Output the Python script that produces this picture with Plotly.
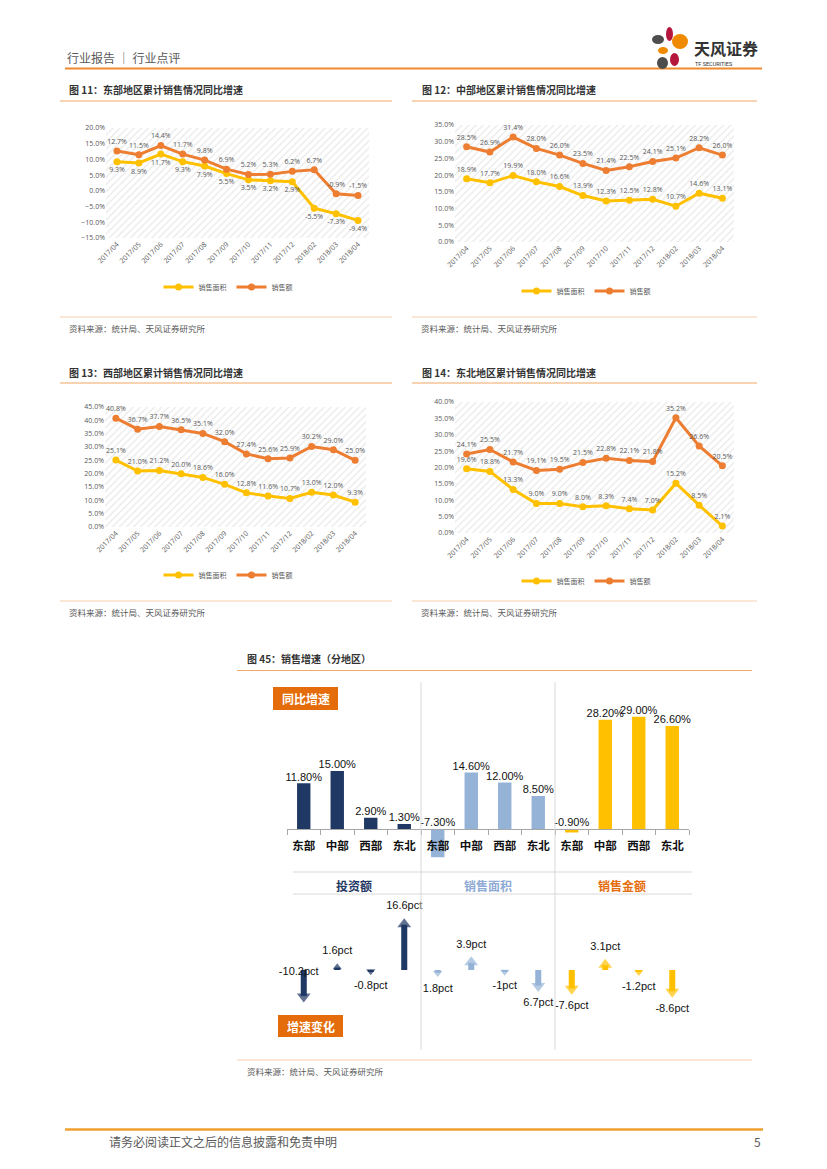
import plotly.graph_objects as go

W, H = 827, 1169
def px(x): return x / W
def py(y): return 1 - y / H

FONT = "Noto Sans CJK SC"
GRAY = "#595959"
C_AREA = "#ffc000"
C_AMT = "#ed7d31"

# ---------------- data ----------------
months = ['2017/04', '2017/05', '2017/06', '2017/07', '2017/08', '2017/09',
          '2017/10', '2017/11', '2017/12', '2018/02', '2018/03', '2018/04']

east_area = [9.3, 8.9, 11.7, 9.3, 7.9, 5.5, 3.5, 3.2, 2.9, -5.5, -7.3, -9.4]
east_amount = [12.7, 11.5, 14.4, 11.7, 9.8, 6.9, 5.2, 5.3, 6.2, 6.7, -0.9, -1.5]

central_area = [18.9, 17.7, 19.9, 18.0, 16.6, 13.9, 12.3, 12.5, 12.8, 10.7, 14.6, 13.1]
central_amount = [28.5, 26.9, 31.4, 28.0, 26.0, 23.5, 21.4, 22.5, 24.1, 25.1, 28.2, 26.0]

west_area = [25.1, 21.0, 21.2, 20.0, 18.6, 16.0, 12.8, 11.6, 10.7, 13.0, 12.0, 9.3]
west_amount = [40.8, 36.7, 37.7, 36.5, 35.1, 32.0, 27.4, 25.6, 25.9, 30.2, 29.0, 25.0]

ne_area = [19.6, 18.8, 13.3, 9.0, 9.0, 8.0, 8.3, 7.4, 7.0, 15.2, 8.5, 2.1]
ne_amount = [24.1, 25.5, 21.7, 19.1, 19.5, 21.5, 22.8, 22.1, 21.8, 35.2, 26.6, 20.5]

series_names = ['销售面积', '销售额']

regions = ['东部', '中部', '西部', '东北']
groups = ['投资额', '销售面积', '销售金额']
invest_yoy = [11.8, 15.0, 2.9, 1.3]
area_yoy = [-7.3, 14.6, 12.0, 8.5]
amount_yoy = [-0.9, 28.2, 29.0, 26.6]

invest_chg = [-10.2, 1.6, -0.8, 16.6]
area_chg = [-1.8, 3.9, -1.0, -6.7]
amount_chg = [-7.6, 3.1, -1.2, -8.6]
invest_chg_text = ['-10.2pct', '1.6pct', '-0.8pct', '16.6pct']
area_chg_text = ['1.8pct', '3.9pct', '-1pct', '6.7pct']
amount_chg_text = ['-7.6pct', '3.1pct', '-1.2pct', '-8.6pct']

# ---------------- figure ----------------
fig = go.Figure()
annotations = []
shapes = []

def text(x, y, s, size=9, color=GRAY, bold=False, xanchor='left', family=FONT):
    if bold:
        s = '<b>' + s + '</b>'
    annotations.append(dict(x=px(x), y=py(y), xref='paper', yref='paper', text=s,
                            showarrow=False, xanchor=xanchor, yanchor='middle',
                            font=dict(family=family, size=size, color=color)))

def hline(x0, x1, y, color, width=1):
    shapes.append(dict(type='line', xref='paper', yref='paper', x0=px(x0), x1=px(x1),
                       y0=py(y), y1=py(y), line=dict(color=color, width=width)))

# header
text(65, 57, '行业报告 ｜ 行业点评', size=12, color=GRAY)
hline(65, 762, 68.5, '#ef8a2c', 2)
# logo petals
petals = [(666, 673, 27, 41, '#b5173c'), (672, 688, 34, 49, '#f08a00'),
          (652, 664, 35, 44, '#4d4d4d'), (658, 668, 47, 54, '#f08a00'),
          (670, 679, 53, 66, '#b5173c'), (657, 668, 57, 69, '#4d4d4d')]
for x0, x1, y0, y1, c in petals:
    shapes.append(dict(type='circle', xref='paper', yref='paper', x0=px(x0), x1=px(x1),
                       y0=py(y1), y1=py(y0), fillcolor=c, line=dict(width=0)))
text(692, 48, '天风证券', size=16, color='#333333', bold=True)
text(693, 63.5, 'TF SECURITIES', size=5.5, color='#333333', family='Roboto')

# footer
hline(65, 763, 1129.5, '#f0a030', 2.5)
text(107, 1141, '请务必阅读正文之后的信息披露和免责申明', size=12, color=GRAY)
text(752, 1141, '5', size=12, color=GRAY)

charts = [
    dict(title='图 11：东部地区累计销售情况同比增速', area=east_area, amount=east_amount,
         xd=(106, 369), yd=(238, 128), yr=(-15, 20), area_pos='bottom center',
         leg=(228, 287), tx=67, ty=89, box=(60, 392), tl=101, src=317),
    dict(title='图 12：中部地区累计销售情况同比增速', area=central_area, amount=central_amount,
         xd=(455, 734), yd=(242, 125), yr=(0, 35), area_pos='top center',
         leg=(586, 291), tx=420, ty=89, box=(412, 757), tl=101, src=317),
    dict(title='图 13：西部地区累计销售情况同比增速', area=west_area, amount=west_amount,
         xd=(105, 366), yd=(527, 407), yr=(0, 45), area_pos='top center',
         leg=(228, 575), tx=67, ty=372, box=(60, 392), tl=383, src=601),
    dict(title='图 14：东北地区累计销售情况同比增速', area=ne_area, amount=ne_amount,
         xd=(455, 734), yd=(533, 402), yr=(0, 40), area_pos='top center',
         leg=(586, 581), tx=420, ty=372, box=(412, 757), tl=383, src=601),
]

xs = list(range(len(months)))
for k, c in enumerate(charts, start=1):
    xa = 'x' if k == 1 else f'x{k}'
    ya = 'y' if k == 1 else f'y{k}'
    lg = 'legend' if k == 1 else f'legend{k}'
    lo, hi = c['yr']
    # hatched plot background
    fig.add_trace(go.Scatter(x=[-0.5, 11.5, 11.5, -0.5, -0.5], y=[lo, lo, hi, hi, lo],
                             xaxis=xa, yaxis=ya, mode='lines', line=dict(width=0),
                             fill='toself', fillcolor='rgba(0,0,0,0)',
                             fillpattern=dict(shape='/', fgcolor='#cfcfcf', bgcolor='white',
                                              size=5, solidity=0.22),
                             hoverinfo='skip', showlegend=False))
    fig.add_trace(go.Scatter(x=xs, y=c['area'], xaxis=xa, yaxis=ya, name=series_names[0],
                             mode='lines+markers+text', legend=lg,
                             line=dict(color=C_AREA, width=3),
                             marker=dict(color=C_AREA, size=7),
                             text=[f'{v:.1f}%' for v in c['area']], textposition=c['area_pos'],
                             textfont=dict(family='Open Sans', size=7, color=GRAY),
                             cliponaxis=False))
    fig.add_trace(go.Scatter(x=xs, y=c['amount'], xaxis=xa, yaxis=ya, name=series_names[1],
                             mode='lines+markers+text', legend=lg,
                             line=dict(color=C_AMT, width=3),
                             marker=dict(color=C_AMT, size=7),
                             text=[f'{v:.1f}%' for v in c['amount']], textposition='top center',
                             textfont=dict(family='Open Sans', size=7, color=GRAY),
                             cliponaxis=False))
    xkey = 'xaxis' if k == 1 else f'xaxis{k}'
    ykey = 'yaxis' if k == 1 else f'yaxis{k}'
    fig.update_layout({
        xkey: dict(domain=[px(c['xd'][0]), px(c['xd'][1])], anchor=ya, range=[-0.5, 11.5],
                   tickmode='array', tickvals=xs, ticktext=months, tickangle=-45,
                   showgrid=False, zeroline=False, showline=False, ticks='',
                   tickfont=dict(family='Open Sans', size=7, color=GRAY)),
        ykey: dict(domain=[py(c['yd'][0]), py(c['yd'][1])], anchor=xa, range=[lo, hi],
                   dtick=5, tickformat='.1f', ticksuffix='%', showgrid=True,
                   gridcolor='#d9d9d9', zeroline=False, showline=False, ticks='',
                   tickfont=dict(family='Open Sans', size=7, color=GRAY)),
        lg: dict(orientation='h', x=px(c['leg'][0]), y=py(c['leg'][1]), xanchor='center',
                 yanchor='middle', font=dict(family=FONT, size=7, color=GRAY),
                 itemwidth=30, bgcolor='rgba(0,0,0,0)'),
    })
    text(c['tx'], c['ty'], c['title'], size=10, color='#333333', bold=True)
    hline(c['box'][0], c['box'][1], c['tl'], '#f2a766', 1.2)
    hline(c['box'][0], c['box'][1], c['src'], '#f7cfae', 1.2)
    text(c['box'][0] + 7, c['src'] + 10.5, '资料来源：统计局、天风证券研究所', size=8.5, color=GRAY)

# ---------------- figure 45 ----------------
text(245, 658, '图 45：销售增速（分地区）', size=10, color='#333333', bold=True)
hline(237, 752, 670.5, '#f2a766', 1.2)
hline(237, 752, 1060, '#f7cfae', 1.2)
text(245, 1071, '资料来源：统计局、天风证券研究所', size=8.5, color=GRAY)

group_colors = ['#1f3864', '#95b3d7', '#ffc000']
group_text_colors = ['#1f3864', '#8eaad4', '#e46c0a']
bar_vals = invest_yoy + area_yoy + amount_yoy
bar_x = list(range(len(bar_vals)))
bar_colors = [group_colors[i // 4] for i in bar_x]
bar_ticks = regions * 3

fig.add_trace(go.Bar(x=bar_x, y=bar_vals, xaxis='x5', yaxis='y5', width=0.4,
                     marker=dict(color=bar_colors, line=dict(width=0)), showlegend=False))
fig.add_trace(go.Scatter(x=bar_x, y=[max(v, 0) for v in bar_vals], xaxis='x5', yaxis='y5',
                         mode='text', text=[f'{v:.2f}%' for v in bar_vals],
                         textposition='top center', cliponaxis=False,
                         textfont=dict(family='Liberation Sans', size=11, color='#111111'),
                         showlegend=False))

ZERO_PX, PPP = 829.0, 3.87
bar_lo, bar_hi = -10, 32
fig.update_layout(
    xaxis5=dict(domain=[px(287), px(689)], anchor='free', position=py(ZERO_PX),
                range=[-0.5, 11.5], tickmode='array', tickvals=bar_x, ticktext=bar_ticks,
                showgrid=False, zeroline=False, showline=True, linecolor='#a6a6a6',
                linewidth=1, ticks='', ticklabelstandoff=6,
                tickfont=dict(family=FONT, size=11.5, color='#111111', weight='bold'),
                minor=dict(tick0=0.5, dtick=1, ticks='outside', ticklen=5,
                           tickcolor='#a6a6a6', showgrid=False)),
    yaxis5=dict(domain=[py(ZERO_PX - bar_lo * PPP), py(ZERO_PX - bar_hi * PPP)],
                anchor='x5', range=[bar_lo, bar_hi], visible=False),
)

# group labels and separators
for gi, g in enumerate(groups):
    cx = 287 + (gi * 4 + 2) * 33.5
    text(cx, 885, g, size=12, color=group_text_colors[gi], bold=True, xanchor='center')
hline(293, 692, 872, '#d9d9d9', 1)
hline(293, 692, 894, '#d9d9d9', 1)
for sx in (3.5, 7.5):
    shapes.append(dict(type='line', xref='x5', yref='paper', x0=sx, x1=sx,
                       y0=py(1050), y1=py(682), line=dict(color='#d9d9d9', width=1)))

# labelled boxes
for (x0, x1, y0, y1, s) in [(273, 338, 687, 710, '同比增速'), (278, 343, 1015, 1037, '增速变化')]:
    shapes.append(dict(type='rect', xref='paper', yref='paper', x0=px(x0), x1=px(x1),
                       y0=py(y1), y1=py(y0), fillcolor='#e46c0a', line=dict(width=0)))
    text((x0 + x1) / 2, (y0 + y1) / 2, s, size=12, color='white', bold=True, xanchor='center')

# arrows (change in growth): shaft = thin bar, head = triangle marker
chg_vals = invest_chg + area_chg + amount_chg
chg_text = invest_chg_text + area_chg_text + amount_chg_text
label_mode = ['base'] + ['tip'] * 11
ARROW_PPP = 3.0
ar_half = 70 / ARROW_PPP
HEAD_PX = 9
head_u = HEAD_PX / ARROW_PPP
fig.update_layout(
    xaxis6=dict(domain=[px(287), px(689)], anchor='y6', range=[-0.5, 11.5], visible=False),
    yaxis6=dict(domain=[py(1040), py(900)], anchor='x6', range=[-ar_half, ar_half], visible=False),
)
chg_x = list(range(len(chg_vals)))
chg_colors = [group_colors[i // 4] for i in chg_x]
sgns = [1 if v > 0 else -1 for v in chg_vals]
big = [abs(v) > head_u for v in chg_vals]
shaft_end = [v - s * head_u * 0.5 if b else v * 0.5 for v, s, b in zip(chg_vals, sgns, big)]
head_size = [12 if b else 8 for b in big]
head_y = [v - s * (head_u * 0.45 if b else abs(v) * 0.45) for v, s, b in zip(chg_vals, sgns, big)]
fig.add_trace(go.Bar(x=chg_x, y=shaft_end, xaxis='x6', yaxis='y6', width=0.18,
                     marker=dict(color=chg_colors, line=dict(width=0)), showlegend=False,
                     hoverinfo='skip'))
fig.add_trace(go.Scatter(x=chg_x, y=head_y, xaxis='x6', yaxis='y6', mode='markers',
                         marker=dict(symbol=['triangle-up' if s > 0 else 'triangle-down' for s in sgns],
                                     size=head_size, color=chg_colors, line=dict(width=0)),
                         showlegend=False, hoverinfo='skip', cliponaxis=False))
lab_x, lab_y = [], []
for i, v in enumerate(chg_vals):
    if label_mode[i] == 'base':
        lab_x.append(i - 0.15); lab_y.append(-0.6)
    else:
        lab_x.append(i); lab_y.append(v + sgns[i] * 4.5)
fig.add_trace(go.Scatter(x=lab_x, y=lab_y, xaxis='x6', yaxis='y6', mode='text', text=chg_text,
                         textposition='middle center', cliponaxis=False,
                         textfont=dict(family='Liberation Sans', size=11, color='#111111'),
                         showlegend=False, hoverinfo='skip'))

fig.update_layout(
    width=W, height=H, margin=dict(l=0, r=0, t=0, b=0, pad=0, autoexpand=False),
    paper_bgcolor='white', plot_bgcolor='white',
    annotations=annotations, shapes=shapes,
    font=dict(family=FONT), barmode='overlay',
)

fig.write_html('out.html', config={'displayModeBar': False},
               post_script="document.body.style.margin='0';document.body.style.padding='0';")
